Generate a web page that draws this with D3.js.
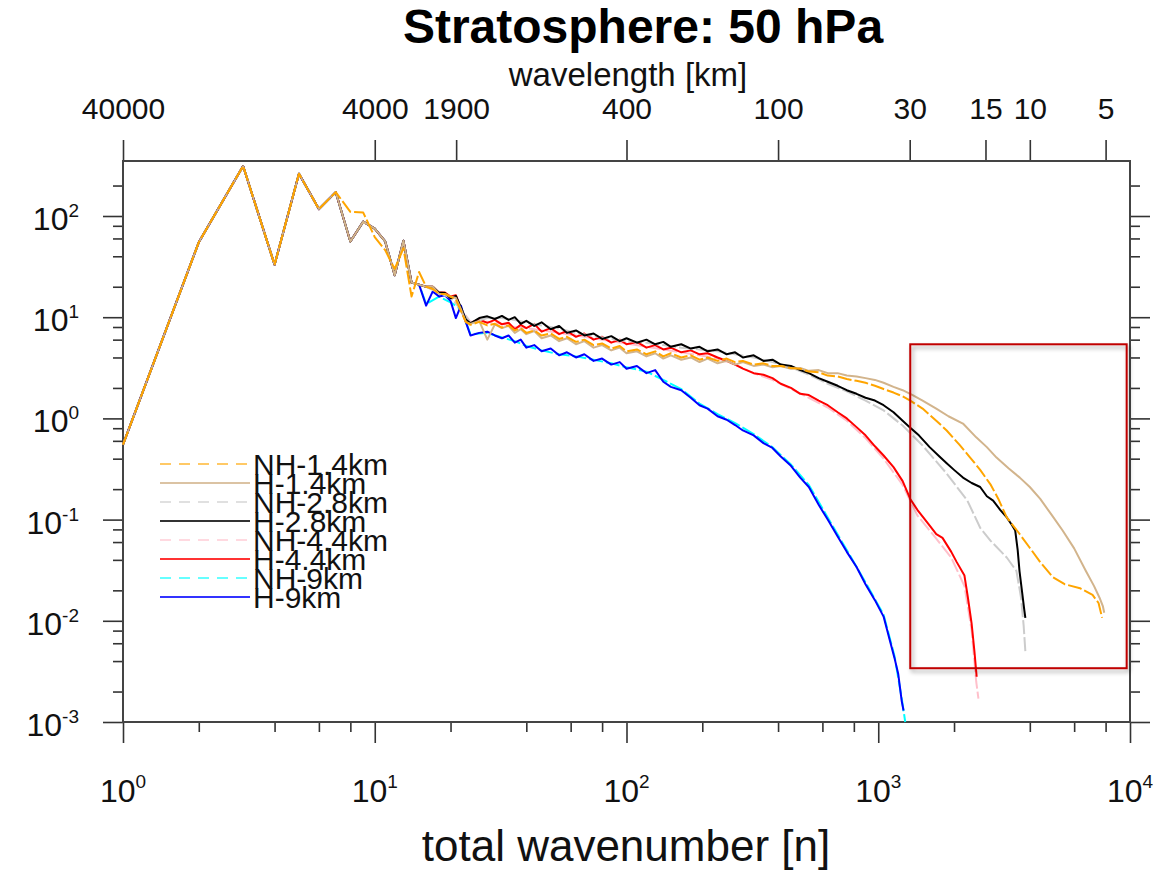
<!DOCTYPE html>
<html>
<head>
<meta charset="utf-8">
<script src="https://cdn.jsdelivr.net/npm/d3@7"></script>
<style>
body { margin: 0; background: #fff; }
text { font-family: 'Liberation Sans', Arial, Helvetica, sans-serif; }
</style>
</head>
<body>
<div id="chart"></div>
<script>
var WIDTH = 1163, HEIGHT = 872;
var PL = 123, PR = 1130, PT = 161, PB = 722;

// ---- data ----
var seriesNames = ["NH-1.4km", "H-1.4km", "NH-2.8km", "H-2.8km", "NH-4.4km", "H-4.4km", "NH-9km", "H-9km"];
var seriesColors = ["#FFA500", "#D2B48C", "#CCCCCC", "#000000", "#FFC0CB", "#FF0000", "#00FFFF", "#0000FF"];
var seriesDashed = [true, false, true, false, true, false, true, false];

// low wavenumbers, shared by all runs
var baseN = [1, 2, 3, 4, 5, 6, 7, 8, 9, 10, 11, 12, 13, 14, 15];
var baseV = [0.55, 55, 312, 33, 262, 117, 172, 56, 88, 75, 56, 26, 57, 22, 21];
// NH-1.4km differs a little between n=8 and n=15
var nh14Low = [[8,110],[9,108],[10,62],[11,46],[12,30],[13,48],[14,16],[15,28]];

var nh14 = [[16,20],[17,19],[18,17],[19,17],[20,16],[21,15],[22,11.5],[23,9],[24,8.4],[26,9.0],[28,8.3],[30,8.6],[32,7.9],[34,8.3],[36,7.4],[38,7.8],[40,7.0],[43,7.4],[46,6.6],[50,6.9],[54,6.1],[58,6.4],[63,5.7],[68,6.0],[74,5.3],[80,5.5],[87,4.9],[94,5.2],[100,4.6],[110,4.8],[120,4.3],[130,4.6],[140,4.1],[150,4.4],[165,4.0],[180,4.2],[195,3.8],[210,4.0],[230,3.7],[250,3.9],[270,3.6],[290,3.7],[320,3.4],[350,3.5],[380,3.3],[410,3.3],[450,3.15],[490,3.1],[530,2.9],[580,2.85],[630,2.65],[690,2.6],[750,2.45],[820,2.35],[890,2.25],[970,2.1],[1050,1.95],[1150,1.8],[1250,1.65],[1340,1.5],[1500,1.25],[1700,0.95],[1870,0.76],[2100,0.55],[2300,0.42],[2540,0.31],[2800,0.22],[3000,0.16],[3240,0.105],[3600,0.075],[3990,0.053],[4400,0.038],[4940,0.027],[5500,0.023],[6330,0.021],[7100,0.018],[7500,0.015],[7750,0.0107]];

var h14 = [[16,20],[17,20],[18,17],[19,17],[20,16],[21,15.5],[22,12],[23,9],[24,8.6],[26,9.2],[28,6.0],[30,8.5],[32,7.8],[34,8.2],[36,7.0],[38,7.6],[40,6.8],[43,7.3],[46,6.2],[50,6.6],[54,5.8],[58,6.2],[63,5.4],[68,5.8],[74,5.0],[80,5.3],[87,4.7],[94,5.0],[100,4.4],[110,4.6],[120,4.1],[130,4.4],[140,3.9],[150,4.2],[165,3.8],[180,4.0],[195,3.6],[210,3.9],[230,3.5],[250,3.7],[270,3.4],[290,3.6],[320,3.3],[350,3.4],[380,3.2],[410,3.3],[450,3.1],[490,3.15],[530,2.95],[580,3.0],[630,2.8],[690,2.8],[750,2.65],[820,2.6],[890,2.5],[970,2.4],[1050,2.25],[1150,2.05],[1250,1.9],[1370,1.7],[1500,1.5],[1700,1.25],[1900,1.05],[2170,0.89],[2450,0.65],[2700,0.52],[2950,0.41],[3300,0.32],[3650,0.26],[4000,0.21],[4400,0.16],[4900,0.11],[5400,0.078],[6000,0.052],[6680,0.031],[7200,0.022],[7560,0.017],[7800,0.014],[7900,0.012]];

var nh28 = [[16,20],[20,15.5],[22,12],[24,8.8],[28,9.8],[32,9.8],[36,9.4],[40,8.8],[46,8.3],[54,7.7],[63,7.0],[74,6.5],[87,6.1],[100,5.8],[120,5.6],[140,5.3],[165,5.0],[195,4.8],[230,4.6],[270,4.3],[320,4.0],[380,3.6],[450,3.2],[530,2.7],[630,2.2],[750,1.85],[890,1.5],[1050,1.2],[1250,0.85],[1500,0.54],[1870,0.285],[2260,0.154],[2540,0.083],[2790,0.062],[3245,0.042],[3540,0.031],[3690,0.017],[3780,0.009],[3840,0.005]];

var h28 = [[16,20],[17,20],[18,17.5],[19,17.3],[20,15.4],[21,16.2],[22,12.5],[23,9.5],[24,8.7],[26,9.8],[28,10.2],[30,9.6],[32,10.3],[34,9.4],[36,10.0],[38,8.6],[40,9.2],[43,8.2],[46,8.9],[50,7.6],[54,8.2],[58,7.0],[63,7.4],[68,6.6],[74,6.9],[80,6.1],[87,6.5],[94,5.8],[100,6.2],[110,5.6],[120,6.0],[130,5.4],[140,5.7],[150,5.1],[165,5.4],[180,4.9],[195,5.1],[210,4.6],[230,4.8],[250,4.3],[270,4.5],[290,4.0],[320,4.2],[350,3.7],[380,3.8],[410,3.4],[450,3.3],[490,3.0],[530,2.8],[580,2.5],[630,2.3],[690,2.1],[750,1.9],[820,1.75],[890,1.6],[970,1.5],[1050,1.35],[1150,1.15],[1250,0.95],[1340,0.81],[1450,0.68],[1600,0.52],[1750,0.42],[1870,0.36],[2000,0.31],[2170,0.26],[2350,0.23],[2540,0.21],[2700,0.17],[2860,0.154],[3050,0.125],[3240,0.105],[3400,0.088],[3500,0.078],[3580,0.05],[3640,0.031],[3720,0.02],[3800,0.013],[3840,0.0107]];

var nh44 = [[16,20],[20,16],[22,12],[24,9],[28,9],[32,8.6],[36,8],[40,7.8],[46,7.4],[54,7],[63,6.6],[74,6.2],[87,5.8],[100,5.5],[120,5.1],[140,4.8],[165,4.5],[195,4.2],[230,3.9],[270,3.4],[320,2.8],[380,2.4],[450,1.95],[530,1.6],[630,1.28],[750,0.95],[890,0.64],[1050,0.4],[1250,0.22],[1430,0.11],[1700,0.065],[1950,0.042],[2200,0.022],[2350,0.008],[2450,0.0025],[2500,0.0017]];

var h44 = [[16,20],[17,20],[18,17.5],[19,17.5],[20,16],[21,16.5],[22,12],[23,9],[24,8.8],[26,9.5],[28,8.8],[30,9.4],[32,8.5],[34,8.8],[36,7.6],[38,8.4],[40,7.8],[43,8.6],[46,7.2],[50,7.8],[54,6.8],[58,7.3],[63,6.4],[68,6.9],[74,6.0],[80,6.4],[87,5.6],[94,6.0],[100,5.4],[110,5.7],[120,5.0],[130,5.3],[140,4.8],[150,5.0],[165,4.5],[180,4.7],[195,4.3],[210,4.4],[230,4.0],[250,3.7],[270,3.4],[290,3.1],[320,2.8],[350,2.7],[380,2.5],[410,2.2],[450,2.0],[490,1.75],[530,1.7],[580,1.5],[630,1.35],[690,1.15],[750,1.0],[820,0.82],[890,0.68],[970,0.53],[1050,0.43],[1150,0.33],[1250,0.24],[1340,0.16],[1430,0.125],[1570,0.093],[1700,0.072],[1800,0.066],[1950,0.048],[2050,0.038],[2200,0.028],[2270,0.017],[2350,0.0093],[2410,0.005],[2460,0.0028]];

var nh9 = [[16,13.5],[18,16],[20,14],[22,12],[24,6.8],[28,7.0],[32,6.3],[36,5.8],[40,5.2],[46,4.7],[54,4.3],[63,4.1],[74,3.8],[87,3.5],[100,3.2],[120,2.9],[140,2.4],[165,1.95],[195,1.4],[230,1.1],[270,0.9],[320,0.7],[380,0.52],[450,0.35],[530,0.22],[630,0.105],[750,0.05],[890,0.024],[1050,0.0115],[1160,0.0045],[1240,0.0017],[1280,0.001]];

var h9 = [[16,13],[17,18],[18,16],[19,16.5],[20,14.5],[21,9.8],[22,13],[23,9],[24,6.6],[26,7.0],[28,7.2],[30,6.6],[32,6.2],[34,6.6],[36,5.6],[38,6.0],[40,5.0],[43,5.3],[46,4.6],[50,4.9],[54,4.2],[58,4.5],[63,4.0],[68,4.3],[74,3.7],[80,3.9],[87,3.4],[94,3.6],[100,3.1],[110,3.3],[120,2.8],[130,3.0],[140,2.3],[150,2.05],[165,1.9],[180,1.6],[195,1.35],[210,1.25],[230,1.05],[250,0.97],[270,0.86],[290,0.76],[320,0.68],[350,0.57],[380,0.51],[410,0.42],[450,0.34],[490,0.26],[530,0.21],[580,0.14],[630,0.1],[690,0.068],[750,0.048],[820,0.034],[890,0.023],[970,0.016],[1050,0.011],[1110,0.0065],[1160,0.0043],[1200,0.003],[1240,0.0016],[1260,0.0013]];

var seriesTails = [nh14, h14, nh28, h28, nh44, h44, nh9, h9];
// draw order, last one ends up on top
var drawOrder = [6, 7, 4, 5, 2, 3, 1, 0];

var xMajor = [1, 10, 100, 1000, 10000];
var xExp = ["0", "1", "2", "3", "4"];
var yMajor = [0.001, 0.01, 0.1, 1, 10, 100];
var yExp = ["-3", "-2", "-1", "0", "1", "2"];
var minorSteps = [2, 4, 6, 8];
var wavelengths = [40000, 4000, 1900, 400, 100, 30, 15, 10, 5];
var earthKm = 40000;

// highlighted region
var boxN = [1340, 9700];
var boxV = [5.4, 0.0034];

// ---- build series ----
var base = baseN.map(function(n, i) { return [n, baseV[i]]; });
var series = seriesTails.map(function(tail, i) {
	if (i === 0) {
		return base.filter(function(d) { return d[0] <= 7; }).concat(nh14Low, tail);
	}
	return base.concat(tail);
});

// ---- svg ----
var svg = d3.select("#chart")
			.append("svg")
			.attr("width", WIDTH)
			.attr("height", HEIGHT);

var defs = svg.append("defs");
var shadow = defs.append("filter").attr("id", "shadow")
				.attr("x", "-10%").attr("y", "-10%").attr("width", "130%").attr("height", "130%");
shadow.append("feDropShadow")
	.attr("dx", 2).attr("dy", 3)
	.attr("stdDeviation", 2)
	.attr("flood-color", "#000")
	.attr("flood-opacity", 0.35);

var x = d3.scaleLog().domain([1, 10000]).range([PL, PR]);
var y = d3.scaleLog().domain([0.001, Math.pow(10, 2 + (216 - PT) / 101.2)]).range([PB, PT]);

var minorX = [];
xMajor.slice(0, -1).forEach(function(m) { minorSteps.forEach(function(s) { minorX.push(m * s); }); });
var minorY = [];
yMajor.forEach(function(m) { minorSteps.forEach(function(s) { if (m * s <= y.domain()[1]) minorY.push(m * s); }); });

function styleAxis(g) {
	g.select(".domain").remove();
	g.selectAll("line").attr("stroke", "#333").attr("stroke-width", 1.6);
}

// bottom
svg.append("g").attr("transform", "translate(0," + PB + ")")
	.call(d3.axisBottom(x).tickValues(xMajor).tickSize(21).tickFormat(""))
	.call(styleAxis);
svg.append("g").attr("transform", "translate(0," + PB + ")")
	.call(d3.axisBottom(x).tickValues(minorX).tickSize(10).tickFormat(""))
	.call(styleAxis);
// left
svg.append("g").attr("transform", "translate(" + PL + ",0)")
	.call(d3.axisLeft(y).tickValues(yMajor).tickSize(20).tickFormat(""))
	.call(styleAxis);
svg.append("g").attr("transform", "translate(" + PL + ",0)")
	.call(d3.axisLeft(y).tickValues(minorY).tickSize(10).tickFormat(""))
	.call(styleAxis);
// right
svg.append("g").attr("transform", "translate(" + PR + ",0)")
	.call(d3.axisRight(y).tickValues(yMajor).tickSize(20).tickFormat(""))
	.call(styleAxis);
svg.append("g").attr("transform", "translate(" + PR + ",0)")
	.call(d3.axisRight(y).tickValues(minorY).tickSize(10).tickFormat(""))
	.call(styleAxis);
// top: wavelength
var topAxis = svg.append("g").attr("transform", "translate(0," + PT + ")")
	.call(d3.axisTop(x)
		.tickValues(wavelengths.map(function(w) { return earthKm / w; }))
		.tickSize(21)
		.tickPadding(21)
		.tickFormat(function(d, i) { return wavelengths[i]; }))
	.call(styleAxis);
topAxis.selectAll("text")
	.attr("font-size", "30px")
	.attr("fill", "#111")
	.attr("font-family", "'Liberation Sans', Arial, sans-serif");

// frame
svg.append("rect")
	.attr("x", PL).attr("y", PT)
	.attr("width", PR - PL).attr("height", PB - PT)
	.attr("fill", "none")
	.attr("stroke", "#444")
	.attr("stroke-width", 2);

// tick labels with exponents
var bottomLabels = svg.append("g").selectAll("text")
	.data(xMajor).enter().append("text")
	.attr("x", function(d) { return x(d); })
	.attr("y", PB + 80)
	.attr("text-anchor", "middle")
	.attr("font-size", "32px")
	.attr("fill", "#111");
bottomLabels.append("tspan").text("10");
bottomLabels.append("tspan").attr("dy", -14).attr("font-size", "19px")
	.text(function(d, i) { return xExp[i]; });

var leftLabels = svg.append("g").selectAll("text")
	.data(yMajor).enter().append("text")
	.attr("x", PL - 44)
	.attr("y", function(d) { return y(d) + 14; })
	.attr("text-anchor", "end")
	.attr("font-size", "32px")
	.attr("fill", "#111");
leftLabels.append("tspan").text("10");
leftLabels.append("tspan").attr("dy", -13).attr("font-size", "19px")
	.text(function(d, i) { return yExp[i]; });

// titles
svg.append("text")
	.attr("x", 643).attr("y", 43)
	.attr("text-anchor", "middle")
	.attr("font-size", "48px")
	.attr("font-weight", "bold")
	.attr("fill", "#000")
	.text("Stratosphere: 50 hPa");

svg.append("text")
	.attr("x", 628).attr("y", 86)
	.attr("text-anchor", "middle")
	.attr("font-size", "33px")
	.attr("fill", "#111")
	.text("wavelength [km]");

svg.append("text")
	.attr("x", 626).attr("y", 861)
	.attr("text-anchor", "middle")
	.attr("font-size", "44px")
	.attr("fill", "#111")
	.text("total wavenumber [n]");

// curves
var line = d3.line()
	.x(function(d) { return x(d[0]); })
	.y(function(d) { return y(d[1]); });

var plot = svg.append("g");
drawOrder.forEach(function(i) {
	plot.append("path")
		.datum(series[i])
		.attr("d", line)
		.attr("fill", "none")
		.attr("stroke", seriesColors[i])
		.attr("stroke-width", 2)
		.attr("stroke-linejoin", "round")
		.attr("stroke-dasharray", seriesDashed[i] ? "14,3" : null);
});

// legend
var legend = svg.append("g");
seriesNames.forEach(function(name, i) {
	var ly = 464 + i * 19;
	legend.append("line")
		.attr("x1", 160).attr("x2", 250)
		.attr("y1", ly).attr("y2", ly)
		.attr("stroke", seriesColors[i])
		.attr("stroke-opacity", seriesDashed[i] ? 0.6 : 0.8)
		.attr("stroke-width", 2)
		.attr("stroke-dasharray", seriesDashed[i] ? "11,8" : null);
	legend.append("text")
		.attr("x", 253).attr("y", ly + 11)
		.attr("font-size", "30px")
		.attr("fill", "#111")
		.text(name);
});

// highlight box
svg.append("rect")
	.attr("x", x(boxN[0])).attr("y", y(boxV[0]))
	.attr("width", x(boxN[1]) - x(boxN[0]))
	.attr("height", y(boxV[1]) - y(boxV[0]))
	.attr("fill", "none")
	.attr("stroke", "#C00000")
	.attr("stroke-width", 2)
	.attr("filter", "url(#shadow)");
</script>
</body>
</html>
